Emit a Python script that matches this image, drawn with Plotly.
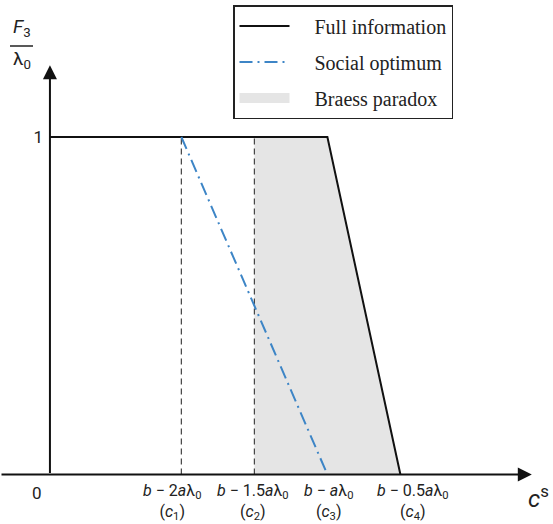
import plotly.graph_objects as go

# ---- data ----
c_labels = ["<i>b</i> − 2<i>a</i>λ<sub>0</sub><br>(<i>c</i><sub>1</sub>)",
            "<i>b</i> − 1.5<i>a</i>λ<sub>0</sub><br>(<i>c</i><sub>2</sub>)",
            "<i>b</i> − <i>a</i>λ<sub>0</sub><br>(<i>c</i><sub>3</sub>)",
            "<i>b</i> − 0.5<i>a</i>λ<sub>0</sub><br>(<i>c</i><sub>4</sub>)"]
c_vals = [0.9, 1.4, 1.9, 2.4]

full_x = [0.0, 1.9, 2.4]
full_y = [1.0, 1.0, 0.0]

social_x = [0.9, 1.9]
social_y = [1.0, 0.0]

braess_x = [1.4, 1.9, 2.4, 1.4, 1.4]
braess_y = [1.0, 1.0, 0.0, 0.0, 1.0]

guide_x = [0.9, 1.4]
guide_top = 1.0

y_ticks = [1]
y_ticklabels = ["1"]

# label placement tweaks (pixels), style only
label_xshift = [-9, -1, 1, 13]

W, H = 553, 524
x_range = [-0.342, 3.445]
y_range = [-0.1467, 1.406]
NB = "\u00a0" * 4
GRAY = "#e5e5e5"

fig = go.Figure()

fig.add_trace(go.Scatter(
    x=braess_x, y=braess_y, mode="lines", fill="toself",
    fillcolor=GRAY, line=dict(width=0, color=GRAY),
    showlegend=False, hoverinfo="skip"))

for gx in guide_x:
    fig.add_trace(go.Scatter(
        x=[gx, gx], y=[0, guide_top], mode="lines",
        line=dict(color="#444444", width=1.2, dash="6px,4px"),
        showlegend=False, hoverinfo="skip"))

fig.add_trace(go.Scatter(
    x=full_x, y=full_y, mode="lines",
    line=dict(color="#111111", width=2),
    name=NB + "Full information", legendrank=1, legendgroup="a"))

fig.add_trace(go.Scatter(
    x=social_x, y=social_y, mode="lines",
    line=dict(color="#3d85c6", width=2, dash="13px,5px,2px,5px"),
    name=NB + "Social optimum", legendrank=2, legendgroup="b"))

# legend entry for the shaded region
fig.add_trace(go.Scatter(
    x=[None], y=[None], mode="lines",
    line=dict(color=GRAY, width=18),
    name=NB + "Braess paradox", legendrank=3, legendgroup="c"))

# axes arrows
x_end = 3.30
y_end = 1.213
fig.add_annotation(x=x_end, y=0, ax=x_range[0], ay=0, axref="x", ayref="y",
                   xref="x", yref="y", text="", showarrow=True,
                   arrowhead=2, arrowsize=1.4, arrowwidth=2, arrowcolor="#111111")
fig.add_annotation(x=0, y=y_end, ax=0, ay=0, axref="x", ayref="y",
                   xref="x", yref="y", text="", showarrow=True,
                   arrowhead=2, arrowsize=1.4, arrowwidth=2, arrowcolor="#111111")

# x tick labels (positioned on the data scale)
for cv, lab, sh in zip(c_vals, c_labels, label_xshift):
    fig.add_annotation(x=cv, y=0, xref="x", yref="y", text=lab, showarrow=False,
                       xanchor="center", yanchor="top", xshift=sh, yshift=-5,
                       font=dict(family="Roboto", size=16, color="#222222"))

# origin label
fig.add_annotation(x=0, y=0, xref="x", yref="y", text="0", showarrow=False,
                   xanchor="center", yanchor="middle",
                   xshift=-13, yshift=-19,
                   font=dict(family="Roboto", size=17, color="#222222"))

# y label fraction
fig.add_annotation(x=22 / W, y=1 - 28 / H, xref="paper", yref="paper",
                   xanchor="center", yanchor="middle",
                   text="<i>F</i><sub>3</sub>", showarrow=False,
                   font=dict(family="Roboto", size=19, color="#222222"))
fig.add_annotation(x=22 / W, y=1 - 60 / H, xref="paper", yref="paper",
                   xanchor="center", yanchor="middle",
                   text="λ<sub>0</sub>", showarrow=False,
                   font=dict(family="Roboto", size=19, color="#222222"))
fig.add_shape(type="line", xref="paper", yref="paper",
              x0=10 / W, x1=33 / W, y0=1 - 46 / H, y1=1 - 46 / H,
              line=dict(color="#222222", width=1.5))

# x label
fig.add_annotation(x=538 / W, y=1 - 497 / H, xref="paper", yref="paper",
                   xanchor="center", yanchor="middle",
                   text="<i>c</i><sup>s</sup>", showarrow=False,
                   font=dict(family="Roboto", size=24, color="#222222"))

fig.update_layout(
    width=W, height=H,
    margin=dict(l=0, r=0, t=0, b=0),
    plot_bgcolor="white", paper_bgcolor="white",
    showlegend=True,
    legend=dict(x=233 / W, y=1 - 5 / H, xanchor="left", yanchor="top",
                bordercolor="#222222", borderwidth=1.5, bgcolor="white",
                font=dict(family="Liberation Serif", size=20, color="#222222"),
                itemwidth=50, traceorder="grouped", tracegroupgap=7),
    xaxis=dict(range=x_range, showgrid=False, zeroline=False, showline=False,
               showticklabels=False, ticks=""),
    yaxis=dict(range=y_range, showgrid=False, zeroline=False, showline=False,
               tickvals=y_ticks, ticktext=y_ticklabels, ticks="",
               anchor="free", position=50 / W, ticklabelstandoff=7,
               tickfont=dict(family="Roboto", size=17, color="#222222")),
)

fig.write_html("out.html", config={"displayModeBar": False},
               post_script="document.body.style.margin='0';")
